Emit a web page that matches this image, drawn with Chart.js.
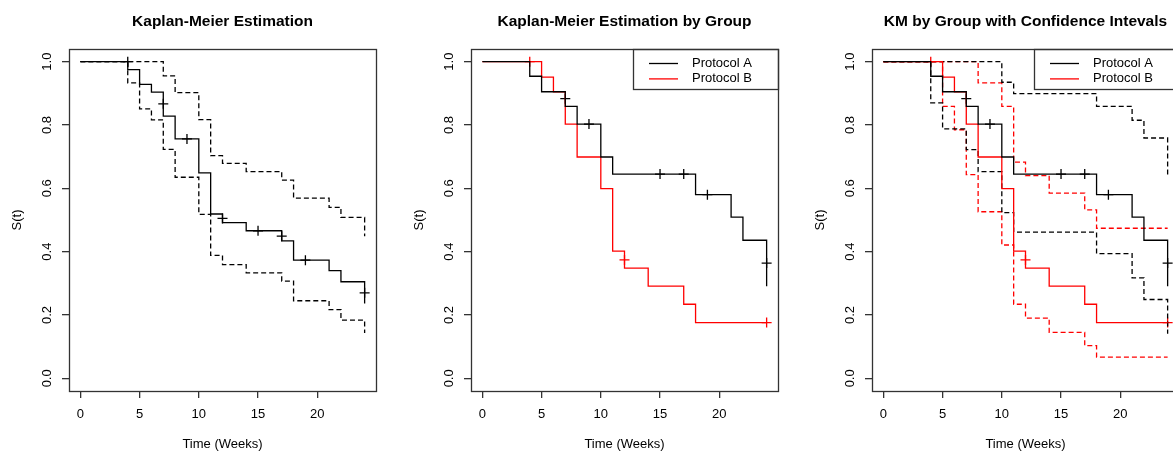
<!DOCTYPE html>
<html>
<head>
<meta charset="utf-8">
<script src="https://cdn.jsdelivr.net/npm/chart.js@4.4.0/dist/chart.umd.min.js"></script>
<style>
  html, body { margin: 0; padding: 0; background: #fff; overflow: hidden; }
  #wrap { position: relative; width: 1173px; height: 452px; overflow: hidden; }
  canvas { position: absolute; top: 0; }
</style>
</head>
<body>
<div id="wrap">
  <canvas id="c1" width="401" height="452" style="left:0px"></canvas>
  <canvas id="c2" width="401" height="452" style="left:402px"></canvas>
  <canvas id="c3" width="401" height="452" style="left:803px"></canvas>
</div>
<script>
// all patients
const kmTime  = [0, 4, 5, 6, 7, 8, 10, 11, 12, 14, 17, 18, 21, 22, 24];
const kmSurv  = [1, 0.975, 0.928, 0.904, 0.828, 0.756, 0.649, 0.519, 0.492, 0.466, 0.434, 0.373, 0.340, 0.305, 0.236];
const kmUpper = [1, 1, 1, 1, 0.955, 0.902, 0.817, 0.703, 0.679, 0.653, 0.626, 0.569, 0.540, 0.508, 0.449];
const kmLower = [1, 0.933, 0.851, 0.816, 0.723, 0.635, 0.518, 0.388, 0.359, 0.333, 0.307, 0.245, 0.217, 0.184, 0.143];
const kmCensT = [4, 7, 9, 12, 15, 17, 19, 24];
const kmCensS = [1, 0.867, 0.756, 0.505, 0.466, 0.449, 0.373, 0.270];

// protocol A
const aTime  = [0, 4, 5, 7, 8, 10, 11, 18, 21, 22, 24];
const aSurv  = [1, 0.954, 0.905, 0.859, 0.803, 0.699, 0.645, 0.580, 0.509, 0.436, 0.291];
const aUpper = [1, 1, 1, 1, 1, 0.935, 0.899, 0.859, 0.815, 0.759, 0.640];
const aLower = [1, 0.870, 0.788, 0.722, 0.653, 0.523, 0.462, 0.394, 0.317, 0.249, 0.141];
const aCensT = [7, 9, 15, 17, 19, 24];
const aCensS = [0.883, 0.803, 0.645, 0.645, 0.580, 0.364];

// protocol B
const bTime  = [0, 5, 6, 7, 8, 10, 11, 12, 14, 17, 18, 24];
const bSurv  = [1, 0.951, 0.905, 0.803, 0.699, 0.599, 0.402, 0.348, 0.291, 0.234, 0.176, 0.176];
const bUpper = [1, 1, 1, 1, 0.933, 0.859, 0.683, 0.640, 0.585, 0.532, 0.474, 0.474];
const bLower = [1, 0.859, 0.785, 0.643, 0.526, 0.421, 0.234, 0.190, 0.145, 0.103, 0.067, 0.067];
const bCensT = [4, 12, 24];
const bCensS = [1, 0.374, 0.176];

const xTicks = [0, 5, 10, 15, 20];
const yTicks = [0, 0.2, 0.4, 0.6, 0.8, 1.0];
const groupLabels = ["Protocol A", "Protocol B"];
const groupColors = ["#000000", "#ff0000"];

const FONT = '"Liberation Sans", Arial, sans-serif';
Chart.defaults.font.family = FONT;
Chart.defaults.color = "#000";

const pts = (xs, ys) => xs.map((x, i) => ({ x: x, y: ys[i] }));

function stepSet(xs, ys, color, dashed) {
  return {
    data: pts(xs, ys),
    borderColor: color,
    borderWidth: 1.3,
    stepped: true,
    pointRadius: 0,
    fill: false,
    borderDash: dashed ? [5, 3] : []
  };
}

function censSet(xs, ys, color) {
  return {
    data: pts(xs, ys),
    showLine: false,
    pointStyle: "cross",
    pointRadius: 5,
    pointBorderWidth: 1.3,
    pointBorderColor: color,
    borderColor: color
  };
}

// box, title and legend, R style
const frame = {
  id: "frame",
  afterDraw(chart, args, opts) {
    const { ctx, chartArea: a } = chart;
    ctx.save();
    ctx.strokeStyle = "#333";
    ctx.lineWidth = 1.3;
    ctx.strokeRect(Math.round(a.left) + 0.5, Math.round(a.top) + 0.5,
                   Math.round(a.right - a.left), Math.round(a.bottom - a.top));
    ctx.fillStyle = "#000";
    ctx.font = "bold 15.5px " + FONT;
    ctx.textAlign = "center";
    ctx.textBaseline = "alphabetic";
    ctx.fillText(opts.text, (a.left + a.right) / 2, 25.5);
    if (opts.legend) {
      const x0 = Math.round(a.right) - 145, y0 = Math.round(a.top);
      ctx.strokeRect(x0 + 0.5, y0 + 0.5, 145, 40);
      ctx.font = "13px " + FONT;
      ctx.textAlign = "left";
      ctx.textBaseline = "middle";
      groupLabels.forEach((lab, i) => {
        const y = y0 + 14.5 + i * 15.4;
        ctx.strokeStyle = groupColors[i];
        ctx.beginPath();
        ctx.moveTo(x0 + 16, y);
        ctx.lineTo(x0 + 45, y);
        ctx.stroke();
        ctx.fillText(lab, x0 + 59, y);
      });
    }
    ctx.restore();
  }
};

function options(title, legend) {
  return {
    responsive: false,
    animation: false,
    devicePixelRatio: 1,
    layout: { padding: { top: 49, right: 25, left: 0, bottom: 0 } },
    plugins: {
      legend: { display: false },
      tooltip: { enabled: false },
      frame: { text: title, legend: legend }
    },
    scales: {
      x: {
        type: "linear",
        min: -0.96,
        max: 24.96,
        afterBuildTicks: s => { s.ticks = xTicks.map(v => ({ value: v })); },
        afterFit: s => { s.height = 61; },
        grid: { drawOnChartArea: false, tickLength: 7, color: "#333", lineWidth: 1.3 },
        border: { display: false },
        ticks: { padding: 9, color: "#000", font: { size: 13 }, maxRotation: 0, autoSkip: false,
                 callback: v => String(v) },
        title: { display: true, text: "Time (Weeks)", color: "#000", font: { size: 13 },
                 padding: { top: 0, bottom: 0 } }
      },
      y: {
        type: "linear",
        min: -0.04,
        max: 1.04,
        afterBuildTicks: s => { s.ticks = yTicks.map(v => ({ value: v })); },
        afterFit: s => { s.width = 69; },
        grid: { drawOnChartArea: false, tickLength: 7, color: "#333", lineWidth: 1.3 },
        border: { display: false },
        ticks: { padding: 6, color: "#000", font: { size: 13 }, minRotation: 90, maxRotation: 90,
                 crossAlign: "center", autoSkip: false, callback: v => v.toFixed(1) },
        title: { display: true, text: "S(t)", color: "#000", font: { size: 13 },
                 padding: { top: 10, bottom: 0 } }
      }
    }
  };
}

new Chart(document.getElementById("c1"), {
  type: "line",
  data: {
    datasets: [
      stepSet(kmTime, kmSurv, "#000", false),
      stepSet(kmTime, kmUpper, "#000", true),
      stepSet(kmTime, kmLower, "#000", true),
      censSet(kmCensT, kmCensS, "#000")
    ]
  },
  options: options("Kaplan-Meier Estimation", false),
  plugins: [frame]
});

new Chart(document.getElementById("c2"), {
  type: "line",
  data: {
    datasets: [
      stepSet(aTime, aSurv, groupColors[0], false),
      stepSet(bTime, bSurv, groupColors[1], false),
      censSet(aCensT, aCensS, groupColors[0]),
      censSet(bCensT, bCensS, groupColors[1])
    ]
  },
  options: options("Kaplan-Meier Estimation by Group", true),
  plugins: [frame]
});

new Chart(document.getElementById("c3"), {
  type: "line",
  data: {
    datasets: [
      stepSet(aTime, aSurv, groupColors[0], false),
      stepSet(bTime, bSurv, groupColors[1], false),
      stepSet(aTime, aUpper, groupColors[0], true),
      stepSet(aTime, aLower, groupColors[0], true),
      stepSet(bTime, bUpper, groupColors[1], true),
      stepSet(bTime, bLower, groupColors[1], true),
      censSet(aCensT, aCensS, groupColors[0]),
      censSet(bCensT, bCensS, groupColors[1])
    ]
  },
  options: options("KM by Group with Confidence Intevals", true),
  plugins: [frame]
});
</script>
</body>
</html>
